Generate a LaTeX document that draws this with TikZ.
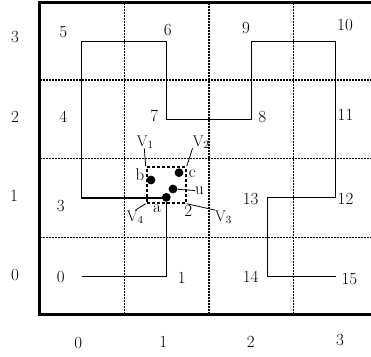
\documentclass[tikz,border=0pt]{standalone}
\usetikzlibrary{calc}
\begin{document}
\begin{tikzpicture}[x=1pt,y=-1pt,
  frame/.style={line width=3.2pt},
  gridline/.style={line width=1.5pt,dash pattern=on 0.9pt off 0.6pt},
  curve/.style={line width=1.5pt,line join=miter},
  lab/.style={inner sep=0pt,font=\fontsize{17}{19}\selectfont},
  vlab/.style={inner sep=0pt,font=\fontsize{15.5}{17}\selectfont,anchor=base west},
  dot/.style={circle,fill=black,inner sep=0pt,minimum size=8.8pt},
  boxst/.style={draw,line width=2.1pt,dash pattern=on 3.2pt off 1.8pt,inner sep=0pt,minimum width=39pt,minimum height=35.4pt},
  leader/.style={line width=0.8pt}]
\useasboundingbox (0,0) rectangle (371,356);
% grid
\foreach \x in {124.3,209,293.7} \draw[gridline] (\x,2.5) -- (\x,314);
\foreach \y in {80,158.3,237.3} \draw[gridline] (39.5,\y) -- (371,\y);
% frame
\draw[frame] (372,2.5) -- (39.5,2.5) -- (39.5,314.3) -- (372,314.3);
% curve points
\coordinate (p0) at (81.7,276.7);
\coordinate (p1) at (166.7,276.7);
\coordinate (p2) at (166.7,197.8);
\coordinate (p3) at (81.7,197.8);
\coordinate (p4) at (81.7,119.3);
\coordinate (p5) at (81.7,41.7);
\coordinate (p6) at (166.7,41.7);
\coordinate (p7) at (166.7,119.3);
\coordinate (p8) at (251.3,119.3);
\coordinate (p9) at (251.3,41.7);
\coordinate (p10) at (335.5,41.7);
\coordinate (p11) at (335.5,119.3);
\coordinate (p12) at (335.5,197.5);
\coordinate (p13) at (267.3,197.5);
\coordinate (p14) at (267.3,276.7);
\coordinate (p15) at (335.5,276.7);
\draw[curve] (p0) -- (p1) -- (p2) -- (p3) -- (p4) -- (p5) -- (p6) -- (p7) -- (p8) -- (p9) -- (p10) -- (p11) -- (p12) -- (p13) -- (p14) -- (p15);
% dashed box and dots
\node[boxst] (box) at (166.2,185) {};
\node[dot] (da) at (166.3,197.3) {};
\node[dot] (du) at (173,189) {};
\node[dot] (dc) at (179,172.7) {};
\node[dot] (db) at (151,180) {};
% number labels
\node[lab] (n0) at (60.7,276.7) {0};
\node[lab] (n1) at (181.7,278.3) {1};
\node[lab] (n2) at (188.3,211) {2};
\node[lab] (n3) at (60.7,206) {3};
\node[lab] (n4) at (63.3,116.7) {4};
\node[lab] (n5) at (63.3,31.7) {5};
\node[lab] (n6) at (167.7,30) {6};
\node[lab] (n7) at (154.3,116) {7};
\node[lab] (n8) at (262.3,117.3) {8};
\node[lab] (n9) at (246,28.3) {9};
\node[lab] (n10) at (345,25) {10};
\node[lab] (n11) at (345.5,115) {11};
\node[lab] (n12) at (345.5,199.3) {12};
\node[lab] (n13) at (250.7,199.3) {13};
\node[lab] (n14) at (250.7,277.3) {14};
\node[lab] (n15) at (349.3,279) {15};
% letters
\node[lab] (la) at (157,209) {a};
\node[lab] (lb) at (140,175) {b};
\node[lab] (lc) at (192.3,174) {c};
\node[lab,anchor=west] (lu) at (195,190.5) {u};
\draw[leader] (du) -- (lu.west);
% V labels
\node[vlab] (v1) at (136.7,146) {V$_1$};
\node[vlab] (v2) at (192.7,146) {V$_2$};
\node[vlab] (v3) at (215,221.7) {V$_3$};
\node[vlab] (v4) at (126.7,221.7) {V$_4$};
\coordinate (v1e) at (144.3,148.3);
\coordinate (v2e) at (192.5,148.3);
\coordinate (v3e) at (214.7,210);
\coordinate (v4e) at (135.5,210);
\draw[leader] (v1e) -- (box.north west);
\draw[leader] (v2e) -- (box.north east);
\draw[leader] (box.south east) -- (v3e);
\draw[leader] (box.south west) -- (v4e);
% axes labels
\node[lab] (y3) at (15,37.3) {3};
\node[lab] (y2) at (15,116.7) {2};
\node[lab] (y1) at (14,196) {1};
\node[lab] (y0) at (15,275) {0};
\node[lab] (x0) at (78.3,342.7) {0};
\node[lab] (x1) at (163.3,342) {1};
\node[lab] (x2) at (250.7,341.7) {2};
\node[lab] (x3) at (340,340) {3};
\end{tikzpicture}
\end{document}
